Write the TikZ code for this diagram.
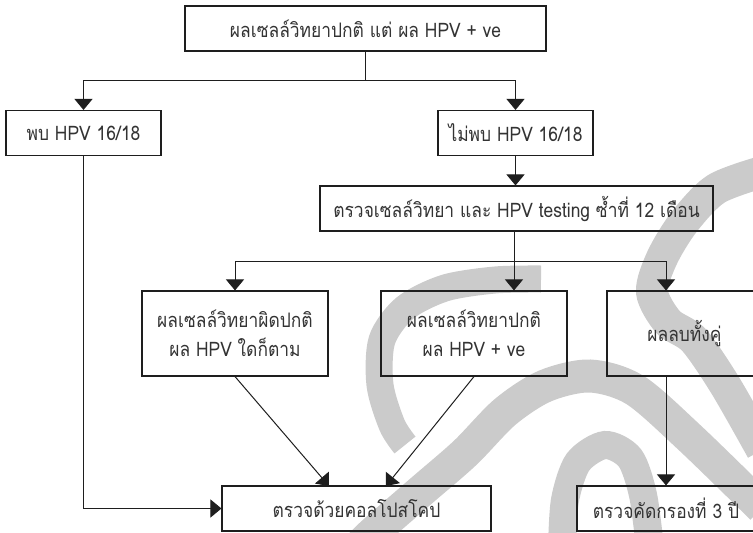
\documentclass[tikz,border=0pt]{standalone}
\usepackage{fontspec}
\setmainfont[Script=Thai,FakeStretch=0.87]{Loma}
\usetikzlibrary{arrows.meta}
\definecolor{linecol}{HTML}{1E1E1E}
\definecolor{txtcol}{HTML}{333333}
\definecolor{wmgray}{HTML}{CBCBCB}
\begin{document}
\begin{tikzpicture}[x=1pt,y=-1pt,
  box/.style={draw=linecol, line width=1.1pt, inner sep=0pt, text=txtcol,
    font=\fontsize{20}{29}\selectfont, align=center},
  ln/.style={draw=linecol, line width=1pt},
  arr/.style={draw=linecol, line width=1pt, -{Triangle[width=18pt,length=11pt]}},
  wm/.style={draw=wmgray, line width=#1, line cap=butt},
  wm/.default=30pt]
\useasboundingbox (0,0) rectangle (753,533);

% background watermark strokes
\draw[wm=27pt] plot[smooth] coordinates {(541,279) (495,280) (445,288) (405,308) (382,340) (380,385) (392,425) (405,445)};
\draw[wm=32pt] plot[smooth] coordinates {(762,172) (716,189) (684,222) (662,258) (652,292) (668,322) (694,340) (725,385) (762,450)};
\draw[wm=33pt] plot[smooth] coordinates {(358,548) (373,533) (420,492) (465,453) (505,412) (545,386) (590,376) (635,390) (690,438) (762,508)};
\draw[wm=28pt] plot[smooth] coordinates {(562,548) (565,500) (578,462) (605,445) (630,458) (643,495) (650,548)};

% boxes
\node[box, minimum width=361pt, minimum height=45pt] (top) at (365.5,28.5) {ผลเซลล์วิทยาปกติ แต่ ผล HPV + ve};
\node[box, minimum width=155pt, minimum height=45pt] (p1) at (83.5,133) {พบ HPV 16/18};
\node[box, minimum width=155pt, minimum height=45pt] (p2) at (515.5,133) {ไม่พบ HPV 16/18};
\node[box, minimum width=393pt, minimum height=45pt] (r3) at (516.5,208.5) {ตรวจเซลล์วิทยา และ HPV testing ซ้ำที่ 12 เดือน};
\node[box, minimum width=186pt, minimum height=85pt] (a) at (235,333.5) {ผลเซลล์วิทยาผิดปกติ\\ผล HPV ใดก็ตาม};
\node[box, minimum width=186pt, minimum height=85pt] (b) at (474,333.5) {ผลเซลล์วิทยาปกติ\\ผล HPV + ve};
\node[box, minimum width=155pt, minimum height=85pt] (c) at (684.5,333.5) {ผลลบทั้งคู่};
\node[box, minimum width=269pt, minimum height=45pt] (d) at (356.5,508.5) {ตรวจด้วยคอลโปสโคป};
\node[box, minimum width=178pt, minimum height=45pt] (e) at (666,508.5) {ตรวจคัดกรองที่ 3 ปี};

% junction points
\coordinate (t0) at (365.5,80);
\coordinate (tL) at (83.5,80);
\coordinate (tR) at (515.5,80);
\coordinate (m0) at (514,261);
\coordinate (mL) at (235,261);
\coordinate (mR) at (666,261);
\coordinate (dA) at (329,486);
\coordinate (dB) at (386,486);
\coordinate (pk) at (83.5,508.5);

% connectors
\draw[ln] (top.south) -- (t0);
\draw[ln] (tL) -- (tR);
\draw[arr] (tL) -- (p1.north);
\draw[arr] (tR) -- (p2.north);
\draw[arr] (p2.south) -- (r3.north -| p2.south);
\draw[ln] (r3.south -| m0) -- (m0);
\draw[ln] (mL) -- (mR);
\draw[arr] (mL) -- (a.north);
\draw[arr] (m0) -- (m0 |- b.north);
\draw[arr] (mR) -- (mR |- c.north);
\draw[arr] (a.south) -- (dA);
\draw[arr] (b.south) -- (dB);
\draw[arr] (c.south -| mR) -- (e.north -| mR);
\draw[arr] (p1.south) -- (pk) -- (d.west);
\end{tikzpicture}
\end{document}
